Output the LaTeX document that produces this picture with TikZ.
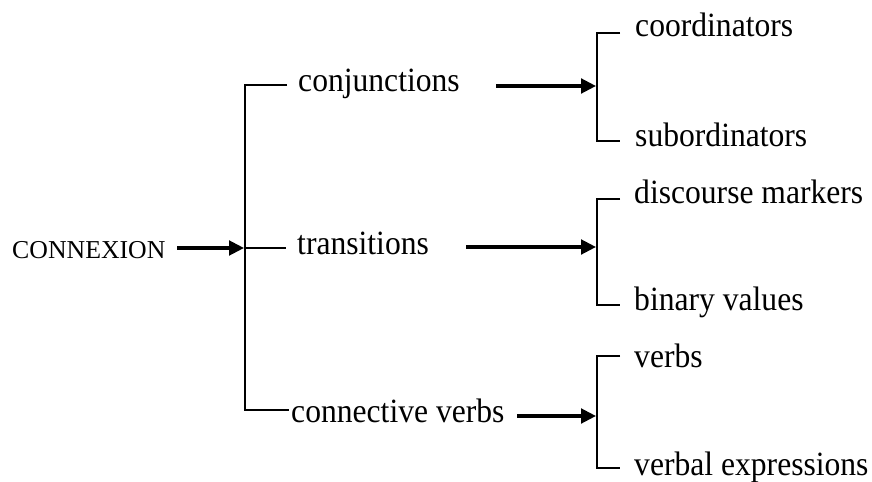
\documentclass[tikz,border=0pt]{standalone}
\usepackage{fontspec}
\setmainfont{Liberation Serif}[FakeStretch=0.93]
\newfontfamily\capsfont{Liberation Serif}
\usetikzlibrary{arrows.meta}

\begin{document}
\begin{tikzpicture}[x=0.03cm,y=-0.03cm,
  brace/.style={line width=1.7pt},
  pointer/.style={line width=2.6pt,-{Triangle[length=0.45cm,width=0.44cm]}},
  word/.style={anchor=base west,inner sep=0pt,font=\fontsize{29}{32}\selectfont}]
\useasboundingbox (0,0) rectangle (872,482);

% main bracket
\coordinate (Mt) at (245,85);
\coordinate (Mm) at (245,248);
\coordinate (Mb) at (245,410);
\coordinate (Mt2) at (287,85);
\coordinate (Mm2) at (286,248);
\coordinate (Mb2) at (289,410);

% small brackets
\coordinate (At) at (597,33);
\coordinate (Am) at (597,86);
\coordinate (Ab) at (597,141);
\coordinate (Bt) at (597,199);
\coordinate (Bm) at (597,247);
\coordinate (Bb) at (597,305);
\coordinate (Ct) at (597,356);
\coordinate (Cm) at (597,416);
\coordinate (Cb) at (597,468);
\coordinate (At2) at (620,33);
\coordinate (Ab2) at (620,141);
\coordinate (Bt2) at (620,199);
\coordinate (Bb2) at (620,305);
\coordinate (Ct2) at (620,356);
\coordinate (Cb2) at (620,468);

% arrow tails
\coordinate (r0) at (177,248);
\coordinate (r1) at (496,86);
\coordinate (r2) at (466,247);
\coordinate (r3) at (517,416);

\draw[brace] (Mt2) -- (Mt) -- (Mb) -- (Mb2);
\draw[line width=1.2pt] (Mm) -- (Mm2);
\draw[brace] (At2) -- (At) -- (Ab) -- (Ab2);
\draw[brace] (Bt2) -- (Bt) -- (Bb) -- (Bb2);
\draw[brace] (Ct2) -- (Ct) -- (Cb) -- (Cb2);

\draw[pointer] (r0) -- ([xshift=-0.03cm]Mm);
\draw[pointer] (r1) -- ([xshift=-0.03cm]Am);
\draw[pointer] (r2) -- ([xshift=-0.03cm]Bm);
\draw[pointer] (r3) -- ([xshift=-0.03cm]Cm);

\node[word,font=\capsfont\fontsize{22}{26}\selectfont] (cnx) at (12,258) {CONNEXION};
\node[word] (conj)   at (298,92)  {conjunctions};
\node[word] (trans)  at (297,254) {transitions};
\node[word] (cverbs) at (291,422) {connective verbs};
\node[word] (coord)  at (635,37)  {coordinators};
\node[word] (subord) at (635,147) {subordinators};
\node[word] (disc)   at (634,203) {discourse markers};
\node[word] (binary) at (634,310) {binary values};
\node[word] (verbs)  at (634,367) {verbs};
\node[word] (verbex) at (634,475) {verbal expressions};
\end{tikzpicture}
\end{document}
